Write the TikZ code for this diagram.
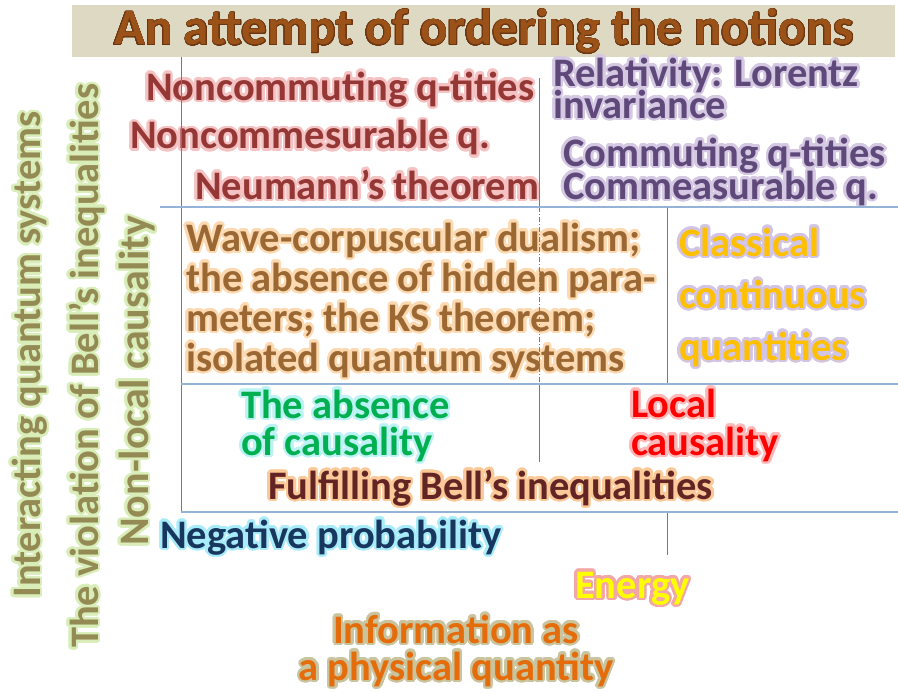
\documentclass[tikz,border=0pt]{standalone}
\usepackage{fontspec}
\setmainfont{Carlito}
\usepackage[copies]{contour}
\contournumber{24}
\contourlength{2.4pt}
\lineskiplimit=-100pt

\definecolor{bandtan}{HTML}{DDD9C3}
\definecolor{titlebrown}{HTML}{9A5218}
\definecolor{titleedge}{HTML}{6A3410}
\definecolor{lineblue}{HTML}{4F81BD}
\definecolor{redq}{HTML}{953735}
\definecolor{redqglow}{HTML}{F4C2C2}
\definecolor{purq}{HTML}{5F497A}
\definecolor{purqglow}{HTML}{D4C8E2}
\definecolor{wavecol}{HTML}{9B6833}
\definecolor{waveglow}{HTML}{FCD9B0}
\definecolor{classcol}{HTML}{FFC000}
\definecolor{classglow}{HTML}{D2C4E4}
\definecolor{nocausecol}{HTML}{00B050}
\definecolor{nocauseglow}{HTML}{BDF2F4}
\definecolor{localcol}{HTML}{FF0000}
\definecolor{localglow}{HTML}{FFB8B8}
\definecolor{bellcol}{HTML}{632523}
\definecolor{bellglow}{HTML}{FBC898}
\definecolor{negcol}{HTML}{17375E}
\definecolor{negglow}{HTML}{A8ECFA}
\definecolor{energycol}{HTML}{FFFF00}
\definecolor{energyglow}{HTML}{F2A6A6}
\definecolor{infocol}{HTML}{E46C0A}
\definecolor{infoglow}{HTML}{C9C39E}
\definecolor{olivecol}{HTML}{948A54}
\definecolor{oliveglow}{HTML}{D9EDB8}

\newcommand{\glow}[2]{\contour{#1}{#2}}

\begin{document}
\begin{tikzpicture}[x=1pt,y=-1pt,
  lab/.style={inner sep=0pt, anchor=base west, align=left,
    font=\bfseries\fontsize{40.5}{40}\selectfont},
  hline/.style={draw=lineblue!60, line width=1.3pt},
  vline/.style={draw=lineblue, line width=0.9pt}]
  \useasboundingbox (0,0) rectangle (898,693);
  % title band
  \fill[bandtan] (72,5) rectangle (895,57);
  \node[lab, anchor=base, text=titlebrown,
    font=\bfseries\fontsize{51}{52}\selectfont] (title) at (484,45)
    {\contourlength{0.6pt}\glow{titleedge}{An attempt of ordering the notions}};
  % upper left block
  \node[lab, text=redq] (noncomm) at (146,100) {\glow{redqglow}{Noncommuting q-tities}};
  \node[lab, text=redq] (noncmes) at (130,149) {\glow{redqglow}{Noncommesurable q.}};
  \node[lab, text=redq] (neumann) at (195,199) {\glow{redqglow}{Neumann’s theorem}};
  % upper right block (base = last line)
  \node[lab, text=purq, font=\bfseries\fontsize{40.5}{32}\selectfont] (relat) at (553,118)
    {\glow{purqglow}{Relativity: Lorentz}\\\glow{purqglow}{invariance}};
  \node[lab, text=purq, font=\bfseries\fontsize{40.5}{33}\selectfont] (comm) at (563,199)
    {\glow{purqglow}{Commuting q-tities}\\\glow{purqglow}{Commeasurable q.}};
  % middle row
  \node[lab, text=wavecol] (wave) at (186,371)
    {\glow{waveglow}{Wave-corpuscular dualism;}\\
     \glow{waveglow}{the absence of hidden para-}\\
     \glow{waveglow}{meters; the KS theorem;}\\
     \glow{waveglow}{isolated quantum systems}};
  \node[lab, text=classcol, font=\bfseries\fontsize{40.5}{52}\selectfont] (classic) at (679,360)
    {\glow{classglow}{Classical}\\\glow{classglow}{continuous}\\\glow{classglow}{quantities}};
  % causality row
  \node[lab, text=nocausecol, font=\bfseries\fontsize{40.5}{37}\selectfont] (nocause) at (241,455)
    {\glow{nocauseglow}{The absence}\\\glow{nocauseglow}{of causality}};
  \node[lab, text=localcol, font=\bfseries\fontsize{40.5}{38}\selectfont] (local) at (631,455)
    {\glow{localglow}{Local}\\\glow{localglow}{causality}};
  \node[lab, text=bellcol] (bell) at (268,499) {\glow{bellglow}{Fulfilling Bell’s inequalities}};
  % below the frame
  \node[lab, text=negcol] (negprob) at (160,548) {\glow{negglow}{Negative probability}};
  \node[lab, text=energycol] (energy) at (575,598) {\glow{energyglow}{Energy}};
  \node[lab, anchor=base, align=center, text=infocol,
    font=\bfseries\fontsize{40.5}{37}\selectfont] (info) at (456,680)
    {\glow{infoglow}{Information as}\\\glow{infoglow}{a physical quantity}};
  % rotated labels on the left
  \node[lab, rotate=90, text=olivecol] (interact) at (40,598)
    {\glow{oliveglow}{Interacting quantum systems}};
  \node[lab, rotate=90, text=olivecol] (violat) at (98,648)
    {\glow{oliveglow}{The violation of Bell’s inequalities}};
  \node[lab, rotate=90, text=olivecol, font=\bfseries\fontsize{42}{40}\selectfont] (nonlocal) at (148,546)
    {\glow{oliveglow}{Non-local causality}};
  % frame lines
  \draw[vline] (181,57) -- (181,512);
  \draw[vline] (539,78) -- (539,207);
  \draw[vline, dash pattern=on 5pt off 2pt on 1pt off 2pt] (539,207) -- (539,384);
  \draw[vline] (539,384) -- (539,462);
  \draw[vline] (667,207) -- (667,384);
  \draw[vline] (667,512) -- (667,555);
  \draw[hline] (160,207) -- (898,207);
  \draw[hline] (181,384) -- (898,384);
  \draw[hline] (181,512) -- (898,512);
\end{tikzpicture}
\end{document}
